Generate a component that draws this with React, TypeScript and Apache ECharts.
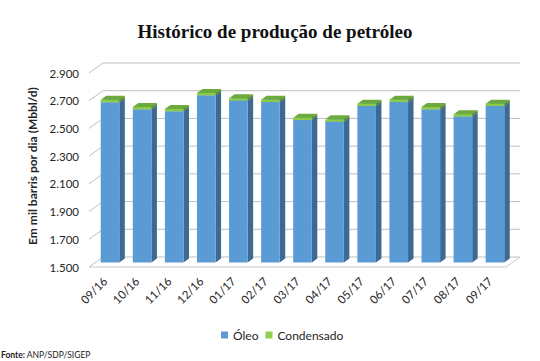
import React, { useEffect, useRef } from "react";
import * as echarts from "echarts";

const categories = ["09/16", "10/16", "11/16", "12/16", "01/17", "02/17", "03/17", "04/17", "05/17", "06/17", "07/17", "08/17", "09/17"];
const oleo = [2656, 2605, 2591, 2706, 2668, 2658, 2528, 2516, 2629, 2658, 2605, 2553, 2629];
const condensado = [18, 17, 17, 17, 17, 17, 17, 17, 17, 17, 17, 17, 17];
const yTicks = [1500, 1700, 1900, 2100, 2300, 2500, 2700, 2900];
const yTickLabels = ["1.500", "1.700", "1.900", "2.100", "2.300", "2.500", "2.700", "2.900"];

// 3D look parameters (pixels)
const WALL_DX = 14;
const WALL_DY = 10;
const BAR_OX = 5;
const BAR_OY = 4.5;
const BAR_SX = 5.5;
const BAR_SY = 4;

const FONT = "Lato";

function makeBarRenderer(front: string, side: string, top: string) {
  return (params: any, api: any) => {
    const i = api.value(0);
    const base = api.value(1);
    const val = api.value(2);
    const pTop = api.coord([i, val]);
    const pBase = api.coord([i, base]);
    const bw = api.size([1, 0])[0] * 0.58;
    const xl = pTop[0] - bw / 2 + BAR_OX;
    const xr = pTop[0] + bw / 2 + BAR_OX;
    const yt = pTop[1] - BAR_OY;
    const yb = pBase[1] - BAR_OY;
    return {
      type: "group",
      children: [
        {
          type: "polygon",
          shape: { points: [[xr, yt], [xr + BAR_SX, yt - BAR_SY], [xr + BAR_SX, yb - BAR_SY], [xr, yb]] },
          style: { fill: side },
        },
        {
          type: "polygon",
          shape: { points: [[xl, yt], [xr, yt], [xr + BAR_SX, yt - BAR_SY], [xl + BAR_SX, yt - BAR_SY]] },
          style: { fill: top },
        },
        {
          type: "rect",
          shape: { x: xl, y: yt, width: xr - xl, height: yb - yt },
          style: { fill: front },
        },
      ],
    };
  };
}

function renderGrid(params: any, api: any) {
  const v = api.value(1);
  const cs = params.coordSys;
  const y = api.coord([0, v])[1];
  const x0 = cs.x;
  const x1 = cs.x + cs.width;
  const stroke = "#BFBFBF";
  const children: any[] = [
    { type: "line", shape: { x1: x0, y1: y, x2: x0 + WALL_DX, y2: y - WALL_DY }, style: { stroke, lineWidth: 1 } },
    { type: "line", shape: { x1: x0 + WALL_DX, y1: y - WALL_DY, x2: x1 + WALL_DX, y2: y - WALL_DY }, style: { stroke, lineWidth: 1 } },
  ];
  if (params.dataIndex === 0) {
    children.push({ type: "line", shape: { x1: x0, y1: y, x2: x1, y2: y }, style: { stroke: "#C8C8C8", lineWidth: 1 } });
    children.push({ type: "line", shape: { x1: x1, y1: y, x2: x1 + WALL_DX, y2: y - WALL_DY }, style: { stroke: "#C8C8C8", lineWidth: 1 } });
  }
  return { type: "group", children };
}

export default function App() {
  const ref = useRef<HTMLDivElement>(null);
  useEffect(() => {
    if (!ref.current) return;
    const chart = echarts.init(ref.current, null, { renderer: "svg" });
    const oleoData = oleo.map((v, i) => [i, yTicks[0], v]);
    const condData = condensado.map((v, i) => [i, oleo[i], oleo[i] + v]);
    const gridData = yTicks.map((v) => [0, v]);
    chart.setOption({
      animation: false,
      backgroundColor: "#FFFFFF",
      grid: { left: 89, top: 73, width: 417, height: 194 },
      xAxis: {
        type: "category",
        data: categories,
        boundaryGap: true,
        axisLine: { show: false },
        axisTick: { show: false },
        axisLabel: {
          rotate: 45,
          margin: 12,
          interval: 0,
          fontFamily: FONT,
          fontSize: 11.5,
          color: "#262626",
        },
      },
      yAxis: {
        type: "value",
        min: 1500,
        max: 2900,
        interval: 200,
        axisLine: { show: false },
        axisTick: { show: false },
        splitLine: { show: false },
        axisLabel: {
          margin: 10,
          fontFamily: FONT,
          fontSize: 11.5,
          color: "#262626",
          formatter: (v: number) => {
            const idx = yTicks.indexOf(v);
            return idx >= 0 ? yTickLabels[idx] : "";
          },
        },
      },
      legend: {
        data: ["Óleo", "Condensado"],
        left: 216,
        top: 324,
        icon: "rect",
        itemWidth: 7,
        itemHeight: 7,
        itemGap: 7,
        textStyle: { fontFamily: FONT, fontSize: 12, color: "#262626" },
      },
      graphic: [
        {
          type: "text",
          x: 275,
          y: 31,
          style: {
            text: "Histórico de produção de petróleo",
            fontFamily: "Liberation Serif",
            fontWeight: "bold",
            fontSize: 19,
            fill: "#111111",
            align: "center",
            verticalAlign: "middle",
          },
        },
        {
          type: "text",
          x: 32,
          y: 166,
          rotation: Math.PI / 2,
          style: {
            text: "Em mil barris por dia (Mbbl/d)",
            fontFamily: FONT,
            fontWeight: "bold",
            fontSize: 12,
            fill: "#262626",
            align: "center",
            verticalAlign: "middle",
          },
        },
        {
          type: "text",
          x: 1,
          y: 355,
          style: {
            text: "{b|Fonte:} ANP/SDP/SIGEP",
            fontFamily: FONT,
            fontSize: 8.5,
            fill: "#1a1a1a",
            align: "left",
            verticalAlign: "middle",
            rich: { b: { fontWeight: "bold", fontFamily: FONT, fontSize: 8.5, fill: "#1a1a1a" } },
          },
        },
      ],
      series: [
        {
          type: "custom",
          name: "grid3d",
          silent: true,
          z: 1,
          renderItem: renderGrid,
          encode: { x: 0, y: 1 },
          data: gridData,
        },
        {
          type: "custom",
          name: "Óleo",
          z: 2,
          itemStyle: { color: "#5B9BD5" },
          renderItem: makeBarRenderer("#5B9BD5", "#3C6A95", "#4A86BF"),
          encode: { x: 0, y: [1, 2] },
          data: oleoData,
        },
        {
          type: "custom",
          name: "Condensado",
          z: 3,
          itemStyle: { color: "#92D050" },
          renderItem: makeBarRenderer("#8CCB4A", "#5B8C2E", "#6DAA3E"),
          encode: { x: 0, y: [1, 2] },
          data: condData,
        },
      ],
    });
    return () => chart.dispose();
  }, []);
  return <div ref={ref} style={{ position: "fixed", left: 0, top: 0, width: 540, height: 361 }} />;
}
